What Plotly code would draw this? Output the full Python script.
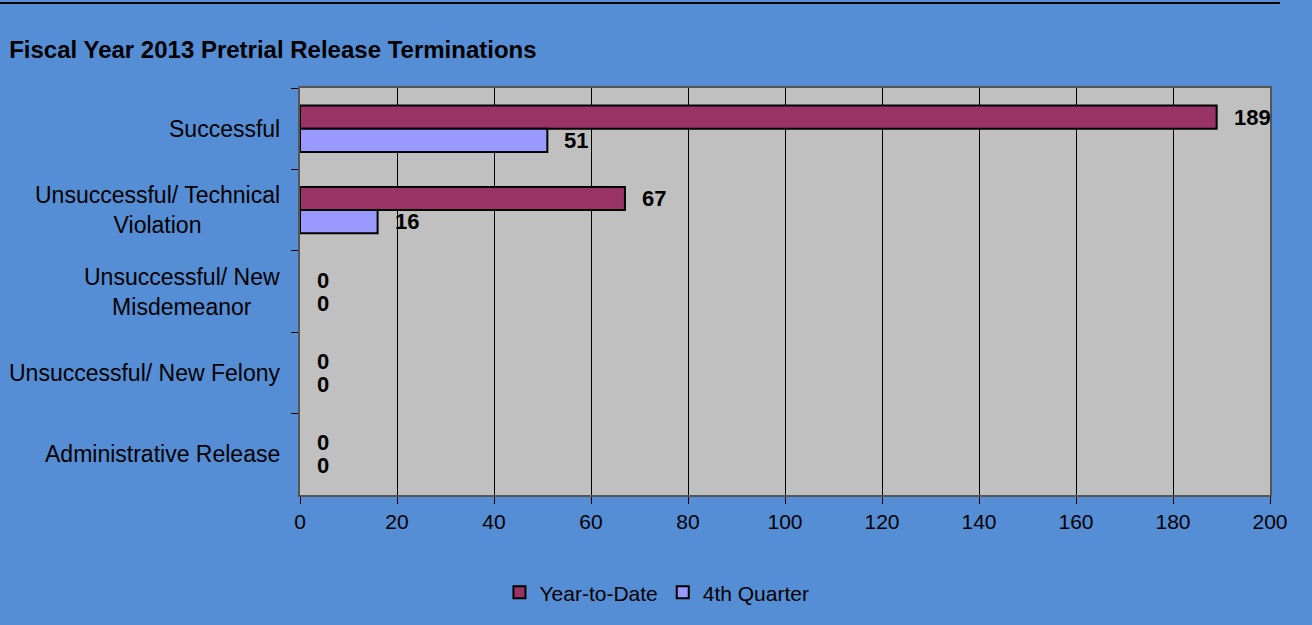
import plotly.graph_objects as go

# data
categories = ['Successful', 'Unsuccessful/ Technical<br>Violation', 'Unsuccessful/ New<br>Misdemeanor',
              'Unsuccessful/ New Felony', 'Administrative Release']
year_to_date = [189, 67, 0, 0, 0]
fourth_quarter = [51, 16, 0, 0, 0]
x_ticks = [0, 20, 40, 60, 80, 100, 120, 140, 160, 180, 200]

BG = '#558ED5'
FONT = 'Liberation Sans, Arial, sans-serif'


def outline(vals):
    # no outline on empty bars, like the original
    return [2 if v > 0 else 0 for v in vals]


fig = go.Figure()
fig.add_trace(go.Bar(y=categories, x=year_to_date, orientation='h', name='Year-to-Date',
                     marker=dict(color='#993366', line=dict(color='black', width=outline(year_to_date)))))
fig.add_trace(go.Bar(y=categories, x=fourth_quarter, orientation='h', name='4th Quarter',
                     marker=dict(color='#9999FF', line=dict(color='black', width=outline(fourth_quarter)))))

# value labels next to each bar
annotations = []
for shift, vals in [(11.5, year_to_date), (-11.5, fourth_quarter)]:
    for cat, v in zip(categories, vals):
        annotations.append(dict(x=v, y=cat, text=str(v), showarrow=False, xanchor='left',
                                xshift=15, yshift=shift,
                                font=dict(family=FONT, size=22, color='black', weight='bold')))

# category labels (centered multi-line like the original)
for cat in categories:
    annotations.append(dict(x=0, xref='paper', y=cat, text=cat, showarrow=False, xanchor='right',
                            align='center', xshift=-18, font=dict(family=FONT, size=23, color='black')))

fig.update_layout(
    width=1312, height=625, autosize=False,
    paper_bgcolor=BG, plot_bgcolor='#C0C0C0',
    margin=dict(l=300, r=42, t=88, b=130, autoexpand=False),
    barmode='group', bargap=0.43, bargroupgap=0,
    font=dict(family=FONT, size=21, color='black'),
    title=dict(text='<b>Fiscal Year 2013 Pretrial Release Terminations</b>', x=0.007, xanchor='left',
               y=0.92, yanchor='middle', font=dict(family=FONT, size=24, color='black')),
    legend=dict(orientation='h', x=0.368, xanchor='center', y=-0.24, yanchor='middle',
                font=dict(family=FONT, size=21, color='black'), bgcolor='rgba(0,0,0,0)'),
    annotations=annotations,
    shapes=[dict(type='line', xref='paper', yref='paper', x0=-0.31, x1=1.0103, y0=1.2088, y1=1.2088,
                 line=dict(color='black', width=2))],
)
fig.update_xaxes(range=[0, 200], tickvals=x_ticks, showgrid=True, gridcolor='black', gridwidth=1,
                 showline=True, linecolor='#555555', linewidth=2, mirror=True, tickangle=0,
                 ticks='outside', ticklen=7, tickcolor='black', zeroline=False,
                 tickfont=dict(family=FONT, size=21, color='black'))
fig.update_yaxes(autorange='reversed', showticklabels=False, tickson='boundaries', ticks='outside',
                 ticklen=7, tickcolor='black', showline=True, linecolor='#555555', linewidth=2, mirror=True,
                 showgrid=False)

fig.write_html('out.html', config={'displayModeBar': False},
               post_script="document.body.style.margin='0';")
